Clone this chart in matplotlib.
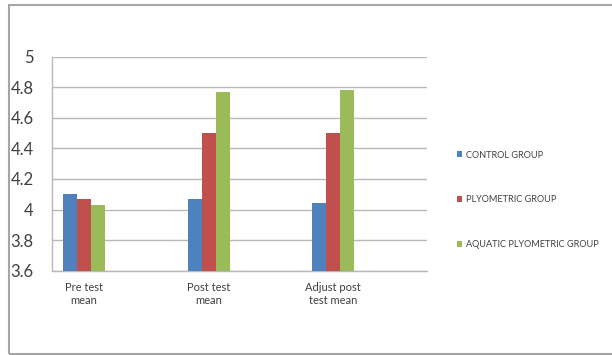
import matplotlib.pyplot as plt
from matplotlib.patches import Rectangle
import numpy as np

plt.rcParams['font.family'] = ['Lato', 'DejaVu Sans']

# data
categories = ["Pre test\nmean", "Post test\nmean", "Adjust post\ntest mean"]
control = [4.10, 4.07, 4.04]
plyometric = [4.07, 4.50, 4.50]
aquatic = [4.03, 4.77, 4.78]
series_names = ["CONTROL GROUP", "PLYOMETRIC GROUP", "AQUATIC PLYOMETRIC GROUP"]
colors = ["#4F81BD", "#C0504D", "#9BBB59"]
yticks = [3.6, 3.8, 4, 4.2, 4.4, 4.6, 4.8, 5]
ytick_labels = ["3.6", "3.8", "4", "4.2", "4.4", "4.6", "4.8", "5"]

fig = plt.figure(figsize=(6.12, 3.55), dpi=100)
ax = fig.add_axes([0.0845, 0.2375, 0.6127, 0.6028])

x = np.arange(len(categories))
w = 0.1125
for k, vals in enumerate([control, plyometric, aquatic]):
    ax.bar(x + (k - 1) * w, np.array(vals) - 3.6, width=w, bottom=3.6,
           color=colors[k], label=series_names[k], zorder=3)

ax.set_ylim(3.6, 5)
ax.set_xlim(-0.26, 2.75)
ax.set_yticks(yticks)
ax.set_yticklabels(ytick_labels, fontsize=12, color="#404040")
ax.set_xticks(x)
ax.set_xticklabels(categories, fontsize=8, color="#404040", linespacing=1.3)
ax.tick_params(axis='y', length=0, pad=13)
ax.tick_params(axis='x', length=0, pad=8)
ax.yaxis.grid(True, color="#b8b8b8", linewidth=1.0, zorder=0)
for s in ['top', 'right']:
    ax.spines[s].set_visible(False)
for s in ['left', 'bottom']:
    ax.spines[s].set_color("#b8b8b8")
    ax.spines[s].set_linewidth(1.0)

leg = fig.legend(loc='center left', bbox_to_anchor=(0.733, 0.437), frameon=False,
                 fontsize=6.6, handlelength=0.6, handleheight=0.6, handletextpad=0.4,
                 labelspacing=3.9)
for t in leg.get_texts():
    t.set_color("#404040")

# outer chart border
fig.patches.append(Rectangle((8.5 / 612, 1 - 354 / 355), 1.1, (349 / 355),
                             transform=fig.transFigure, fill=False,
                             edgecolor="#a6a6a6", linewidth=1.5))

fig.savefig("out.png", dpi=100)
